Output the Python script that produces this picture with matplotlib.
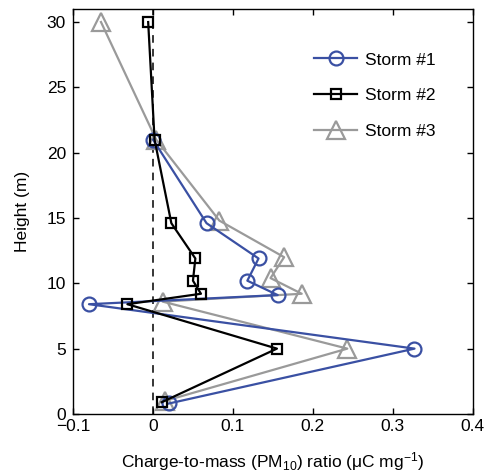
import matplotlib
matplotlib.use("Agg")
import matplotlib.pyplot as plt

plt.rcParams['font.family'] = ['Liberation Sans', 'DejaVu Sans']
plt.rcParams['mathtext.fontset'] = 'custom'
plt.rcParams['mathtext.rm'] = 'Liberation Sans'
plt.rcParams['mathtext.it'] = 'Liberation Sans'

height1 = [0.8, 5.0, 8.4, 9.1, 10.2, 11.9, 14.6, 21.0]
storm1 = [0.020, 0.327, -0.080, 0.156, 0.118, 0.132, 0.067, 0.000]

height2 = [0.9, 5.0, 8.4, 9.2, 10.2, 11.9, 14.6, 21.0, 30.0]
storm2 = [0.011, 0.155, -0.032, 0.060, 0.050, 0.053, 0.023, 0.002, -0.006]

height3 = [1.0, 5.0, 8.6, 9.2, 10.4, 12.0, 14.8, 21.0, 30.0]
storm3 = [0.015, 0.243, 0.012, 0.186, 0.147, 0.164, 0.083, 0.004, -0.065]

labels = ["Storm #1", "Storm #2", "Storm #3"]
xticks = [-0.1, 0, 0.1, 0.2, 0.3, 0.4]
xticklabels = ["\u22120.1", "0", "0.1", "0.2", "0.3", "0.4"]
yticks = [0, 5, 10, 15, 20, 25, 30]

fs = 12.5

fig = plt.figure(figsize=(4.85, 4.72), dpi=100)
ax = fig.add_axes([0.1505, 0.123, 0.8245, 0.858])

ax.axvline(0, color='black', linestyle=(0, (5, 4)), linewidth=1.1, zorder=1)

blue = '#3a50a3'
gray = '#9a9a9a'
ax.plot(storm1, height1, '-o', color=blue, lw=1.6, ms=10, mfc='none', mew=1.6, label=labels[0], zorder=3)
ax.plot(storm2, height2, '-s', color='black', lw=1.6, ms=7.5, mfc='none', mew=1.6, label=labels[1], zorder=4)
ax.plot(storm3, height3, '-^', color=gray, lw=1.6, ms=12.5, mfc='none', mew=1.6, label=labels[2], zorder=2)

ax.set_xlim(-0.1, 0.4)
ax.set_ylim(0, 31)
ax.set_xticks(xticks)
ax.set_xticklabels(xticklabels)
ax.set_yticks(yticks)
ax.tick_params(direction='in', top=True, right=True, labelsize=fs, length=4.5, width=1)
ax.tick_params(axis='y', pad=5)
ax.tick_params(axis='x', pad=4)
for s in ax.spines.values():
    s.set_linewidth(1)

ax.set_xlabel(r"Charge-to-mass (PM$_{10}$) ratio ($\mathregular{\mu}$C mg$^{\mathregular{-1}}$)", fontsize=fs, labelpad=11)
ax.set_ylabel("Height (m)", fontsize=fs, labelpad=12)

leg = ax.legend(loc='upper left', frameon=False, fontsize=fs, handlelength=2.5,
                handletextpad=0.45, bbox_to_anchor=(0.585, 0.91), labelspacing=1.2,
                borderaxespad=0)

fig.savefig("out.png", dpi=100)
